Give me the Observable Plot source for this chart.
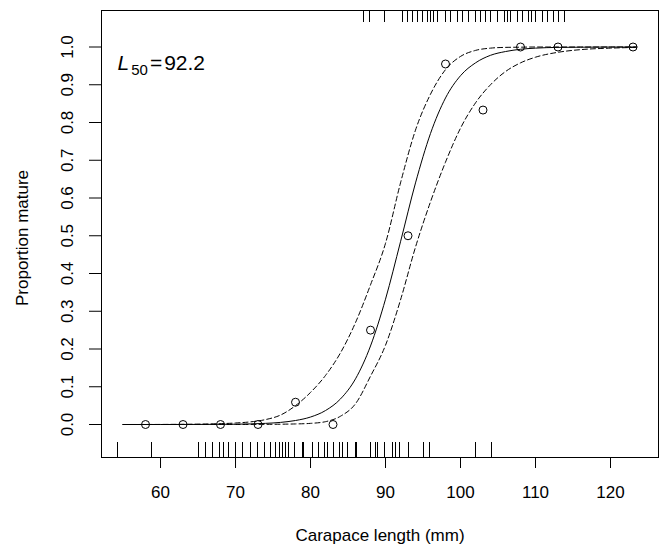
<!DOCTYPE html>
<html><head><meta charset="utf-8">
<script src="https://cdn.jsdelivr.net/npm/d3@7"></script>
<script src="https://cdn.jsdelivr.net/npm/@observablehq/plot@0.6"></script>
<style>body{margin:0;background:#fff}#chart{width:659px;height:550px}</style>
</head><body><div id="chart"></div>
<script>
// Binned proportions mature (open circles)
const binLength = [58, 63, 68, 73, 78, 83, 88, 93, 98, 103, 108, 113, 123];
const propMature = [0, 0, 0, 0, 0.059, 0, 0.25, 0.5, 0.955, 0.833, 1, 1, 1];

// Fitted logistic curve and confidence band
const curveLength = [55, 60, 65, 70, 72, 74, 76, 78, 80, 82, 84, 86, 88, 90, 92, 94, 96, 98, 100, 102, 104, 106, 108, 110, 113, 116, 120, 123.5];
const fitted = [0, 0, 0.0002, 0.0008, 0.0016, 0.003, 0.0056, 0.0106, 0.0198, 0.037, 0.0678, 0.121, 0.208, 0.332, 0.484, 0.64, 0.771, 0.865, 0.924, 0.958, 0.978, 0.988, 0.994, 0.997, 0.999, 0.9995, 0.9999, 1];
const upperBand = [0, 0.0002, 0.001, 0.004, 0.007, 0.013, 0.025, 0.05, 0.085, 0.13, 0.19, 0.27, 0.37, 0.48, 0.64, 0.78, 0.875, 0.94, 0.975, 0.991, 0.997, 0.999, 0.9995, 1, 1, 1, 1, 1];
const lowerBand = [0, 0, 0, 0.0001, 0.0002, 0.0004, 0.0008, 0.0015, 0.003, 0.0075, 0.022, 0.055, 0.128, 0.21, 0.33, 0.47, 0.59, 0.695, 0.785, 0.852, 0.9, 0.935, 0.958, 0.973, 0.986, 0.993, 0.997, 0.999];

// Rug: individual lengths (immature at bottom, mature at top)
const rugImmature = [54.2, 58.8, 65.1, 66.0, 66.9, 67.8, 68.4, 69.1, 70.0, 70.9, 72.0, 72.9, 73.8, 74.7, 75.3, 75.8, 76.2, 76.7, 77.1, 77.8, 78.9, 79.1, 80.2, 81.1, 81.8, 82.2, 83.1, 83.8, 84.2, 84.9, 86.0, 86.1, 88.0, 88.7, 88.9, 89.8, 90.9, 91.3, 91.8, 93.1, 95.1, 95.8, 102.0, 104.1];
const rugMature = [87.1, 87.8, 89.8, 92.2, 92.9, 93.6, 94.2, 94.9, 95.6, 96.0, 96.4, 96.9, 98.0, 98.7, 99.6, 100.2, 101.1, 102.0, 102.7, 103.3, 104.0, 104.9, 105.8, 106.2, 106.7, 107.6, 108.2, 109.1, 109.5, 110.0, 110.9, 111.6, 112.4, 113.1, 113.9];

// Axes
const xTicks = [60, 70, 80, 90, 100, 110, 120];
const yTicks = [0, 0.1, 0.2, 0.3, 0.4, 0.5, 0.6, 0.7, 0.8, 0.9, 1.0];
const yTickLabels = ["0.0", "0.1", "0.2", "0.3", "0.4", "0.5", "0.6", "0.7", "0.8", "0.9", "1.0"];
const xLabel = "Carapace length (mm)";
const yLabel = "Proportion mature";
const l50Symbol = "L";
const l50Sub = "50";
const l50Value = 92.2;

const curveRows = curveLength.map((x, i) => ({x, fit: fitted[i], lo: lowerBand[i], hi: upperBand[i]}));
const pts = binLength.map((x, i) => ({x, y: propMature[i]}));

const chart = Plot.plot({
  width: 659, height: 550,
  marginLeft: 101, marginRight: 1, marginTop: 10, marginBottom: 93,
  style: {fontFamily: "'Liberation Sans', Arial, sans-serif", fontSize: "17px", color: "#000", background: "#fff"},
  x: {domain: [52.13, 126.4]},
  y: {domain: [-0.0874, 1.0967]},
  marks: [
    Plot.frame({stroke: "#000"}),
    Plot.axisX({ticks: xTicks, tickSize: 11, tickPadding: 17, fontSize: 17, label: null}),
    Plot.axisY({ticks: yTicks, tickSize: 12, tickFormat: () => "", label: null}),
    Plot.text(yTicks, {y: d => d, text: (d, i) => yTickLabels[i], frameAnchor: "left", dx: -34, rotate: -90, textAnchor: "middle", lineAnchor: "middle", fontSize: 17}),
    Plot.text([xLabel], {text: d => d, frameAnchor: "bottom", dy: 83, fontSize: 17}),
    Plot.text([yLabel], {text: d => d, frameAnchor: "left", dx: -79, dy: 4, rotate: -90, textAnchor: "middle", fontSize: 17}),
    Plot.tickX(rugImmature, {x: d => d, insetTop: 432, stroke: "#000", shapeRendering: "crispEdges"}),
    Plot.tickX(rugMature, {x: d => d, insetBottom: 435, stroke: "#000", shapeRendering: "crispEdges"}),
    Plot.line(curveRows, {x: "x", y: "hi", curve: "monotone-x", stroke: "#000", strokeWidth: 1, strokeDasharray: "5,3"}),
    Plot.line(curveRows, {x: "x", y: "lo", curve: "monotone-x", stroke: "#000", strokeWidth: 1, strokeDasharray: "5,3"}),
    Plot.line(curveRows, {x: "x", y: "fit", curve: "monotone-x", stroke: "#000", strokeWidth: 1}),
    Plot.dot(pts, {x: "x", y: "y", r: 4, stroke: "#000", fill: "none", strokeWidth: 1}),
    Plot.text([l50Value], {text: d => "L50=" + d, frameAnchor: "top-left", dx: 16, dy: 53, textAnchor: "start", lineAnchor: "middle", fontSize: 21})
  ]
});
document.getElementById("chart").appendChild(chart);

// Turn the L50 label into italic L with a subscript
chart.querySelectorAll("text").forEach(t => {
  if (t.textContent === "L50=" + l50Value) {
    t.textContent = "";
    const ns = "http://www.w3.org/2000/svg";
    const a = document.createElementNS(ns, "tspan");
    a.setAttribute("font-style", "italic"); a.textContent = l50Symbol;
    const b = document.createElementNS(ns, "tspan");
    b.setAttribute("font-size", "15"); b.setAttribute("dy", "5"); b.setAttribute("dx", "2"); b.textContent = l50Sub;
    const c = document.createElementNS(ns, "tspan");
    c.setAttribute("dy", "-5"); c.setAttribute("dx", "2"); c.textContent = "=";
    const d = document.createElementNS(ns, "tspan");
    d.setAttribute("dx", "2"); d.textContent = String(l50Value);
    t.appendChild(a); t.appendChild(b); t.appendChild(c); t.appendChild(d);
  }
});
</script>
</body></html>
